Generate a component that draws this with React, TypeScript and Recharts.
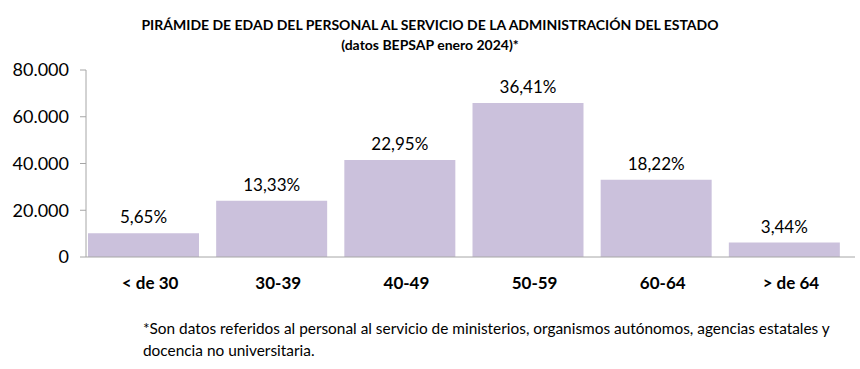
import React from 'react';
import { BarChart, Bar, XAxis, YAxis, LabelList } from 'recharts';

const CATEGORIES = ['< de 30', '30-39', '40-49', '50-59', '60-64', '> de 64'];
const EMPLOYEES = [10200, 24100, 41500, 65900, 33000, 6200];
const SHARE_LABELS = ['5,65%', '13,33%', '22,95%', '36,41%', '18,22%', '3,44%'];
const Y_TICKS = [0, 20000, 40000, 60000, 80000];
const BOUNDARY_TICKS = [0, 1, 2, 3, 4, 5, 6];

const FONT = 'Lato, "Open Sans", sans-serif';
const BAR_COLOR = '#CBC1DC';
const AXIS_COLOR = '#A6A6A6';

const chartData = CATEGORIES.map((name, i) => ({
    name,
    value: EMPLOYEES[i],
    share: SHARE_LABELS[i],
}));

const formatThousands = (v: number) =>
    v === 0 ? '0' : v.toString().replace(/\B(?=(\d{3})+(?!\d))/g, '.');

export default function App() {
    return (
        <div style={{ position: 'absolute', left: 0, top: 0, width: 860, height: 369, background: '#fff', fontFamily: FONT }}>
            <div
                style={{
                    position: 'absolute',
                    top: 15,
                    left: 0,
                    width: 860,
                    textAlign: 'center',
                    fontWeight: 700,
                    fontSize: 14,
                    lineHeight: '20px',
                    color: '#000',
                }}
            >
                <div>PIRÁMIDE DE EDAD DEL PERSONAL AL SERVICIO DE LA ADMINISTRACIÓN DEL ESTADO</div>
                <div>(datos BEPSAP enero 2024)*</div>
            </div>

            <BarChart
                width={860}
                height={369}
                data={chartData}
                margin={{ top: 70, right: 5, bottom: 110, left: 0 }}
                barGap={0}
            >
                {/* boundary ticks like Excel: numeric axis 0..6 lying under the category axis */}
                <XAxis
                    xAxisId="bounds"
                    type="number"
                    domain={[0, 6]}
                    ticks={BOUNDARY_TICKS}
                    axisLine={{ stroke: AXIS_COLOR }}
                    tick={false}
                    tickLine={{ stroke: AXIS_COLOR }}
                    tickSize={6}
                    height={1}
                />
                <XAxis
                    dataKey="name"
                    xAxisId="cat"
                    axisLine={false}
                    tickLine={false}
                    tickSize={0}
                    tick={{ fill: '#000', fontSize: 17, fontWeight: 700, fontFamily: FONT }}
                    tickMargin={19}
                    interval={0}
                    height={1}
                />
                <YAxis
                    width={86}
                    domain={[0, 80000]}
                    ticks={Y_TICKS}
                    tickFormatter={formatThousands}
                    axisLine={{ stroke: AXIS_COLOR }}
                    tickLine={{ stroke: AXIS_COLOR }}
                    tickSize={6}
                    tickMargin={11}
                    tick={{ fill: '#000', fontSize: 18, fontFamily: FONT }}
                />
                <Bar dataKey="value" xAxisId="cat" fill={BAR_COLOR} barSize={111} isAnimationActive={false}>
                    <LabelList
                        dataKey="share"
                        position="top"
                        offset={10}
                        fill="#000"
                        fontSize={17}
                        fontFamily={FONT}
                    />
                </Bar>
                {/* empty slot, the original sheet leaves room for a second series so bars sit left in the band */}
                <Bar dataKey="spacer" xAxisId="cat" fill="none" barSize={13} isAnimationActive={false} />
            </BarChart>

            <div
                style={{
                    position: 'absolute',
                    top: 317,
                    left: 143,
                    width: 717,
                    fontSize: 15.4,
                    lineHeight: '22px',
                    color: '#000',
                }}
            >
                *Son datos referidos al personal al servicio de ministerios, organismos autónomos, agencias estatales y
                <br />
                docencia no universitaria.
            </div>
        </div>
    );
}
